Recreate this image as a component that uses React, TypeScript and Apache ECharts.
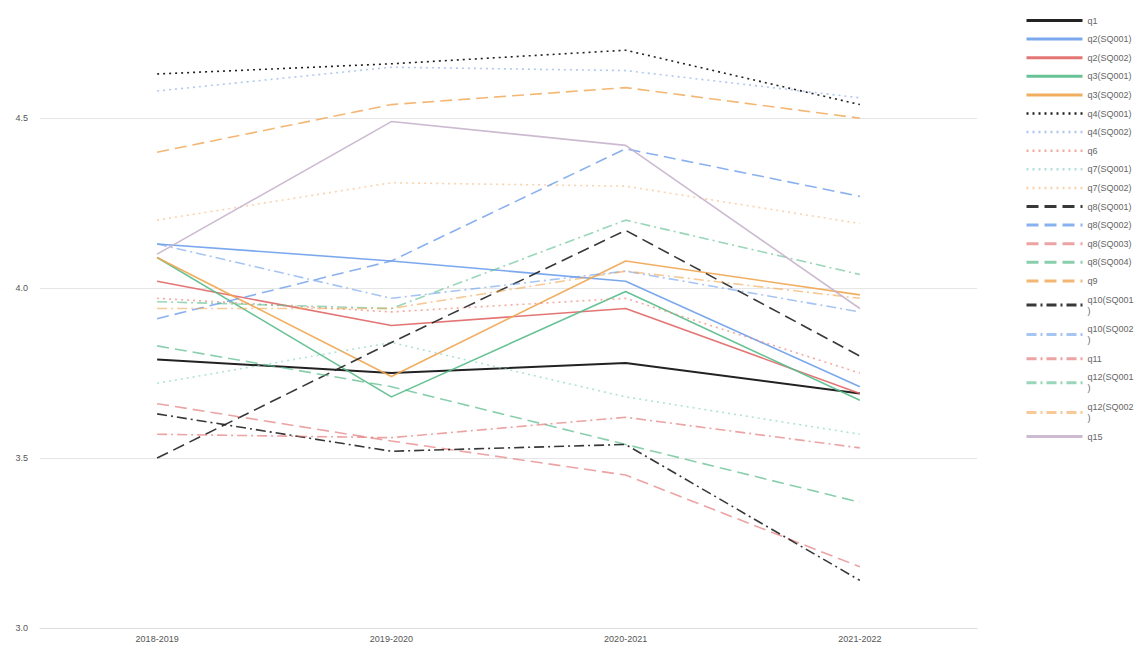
import React, { useEffect, useRef } from 'react';
import * as echarts from 'echarts';

const categories = ['2018-2019', '2019-2020', '2020-2021', '2021-2022'];

const seriesNames = [
  'q1', 'q2(SQ001)', 'q2(SQ002)', 'q3(SQ001)', 'q3(SQ002)',
  'q4(SQ001)', 'q4(SQ002)', 'q6', 'q7(SQ001)', 'q7(SQ002)',
  'q8(SQ001)', 'q8(SQ002)', 'q8(SQ003)', 'q8(SQ004)', 'q9',
  'q10(SQ001)', 'q10(SQ002)', 'q11', 'q12(SQ001)', 'q12(SQ002)',
  'q15',
];

const q1 = [3.79, 3.75, 3.78, 3.69];
const q2sq1 = [4.13, 4.08, 4.02, 3.71];
const q2sq2 = [4.02, 3.89, 3.94, 3.69];
const q3sq1 = [4.09, 3.68, 3.99, 3.67];
const q3sq2 = [4.09, 3.74, 4.08, 3.98];
const q4sq1 = [4.63, 4.66, 4.70, 4.54];
const q4sq2 = [4.58, 4.65, 4.64, 4.56];
const q6 = [3.97, 3.93, 3.97, 3.75];
const q7sq1 = [3.72, 3.84, 3.68, 3.57];
const q7sq2 = [4.20, 4.31, 4.30, 4.19];
const q8sq1 = [3.50, 3.84, 4.17, 3.80];
const q8sq2 = [3.91, 4.08, 4.41, 4.27];
const q8sq3 = [3.66, 3.55, 3.45, 3.18];
const q8sq4 = [3.83, 3.71, 3.54, 3.37];
const q9 = [4.40, 4.54, 4.59, 4.50];
const q10sq1 = [3.63, 3.52, 3.54, 3.14];
const q10sq2 = [4.13, 3.97, 4.05, 3.93];
const q11 = [3.57, 3.56, 3.62, 3.53];
const q12sq1 = [3.96, 3.94, 4.20, 4.04];
const q12sq2 = [3.94, 3.94, 4.05, 3.97];
const q15 = [4.10, 4.49, 4.42, 3.94];

const seriesValues = [
  q1, q2sq1, q2sq2, q3sq1, q3sq2,
  q4sq1, q4sq2, q6, q7sq1, q7sq2,
  q8sq1, q8sq2, q8sq3, q8sq4, q9,
  q10sq1, q10sq2, q11, q12sq1, q12sq2,
  q15,
];

const yTicks = [3.0, 3.5, 4.0, 4.5];

const palette = ['#222222', '#6d9eeb', '#e06666', '#57bb8a', '#f0a550'];
const seriesColors = [
  ...palette,
  '#222222', '#8fb0e8', '#ee8877', '#8fd6c6', '#f7c08a',
  ...palette,
  '#222222', '#6d9eeb', '#e06666', '#57bb8a', '#f0a550',
  '#c6b3cc',
];
const seriesOpacity = [
  1, 0.9, 0.9, 0.9, 0.9,
  1, 0.7, 0.7, 0.7, 0.7,
  0.9, 0.8, 0.6, 0.7, 0.8,
  0.9, 0.6, 0.6, 0.6, 0.6,
  0.9,
];
const SOLID = 'solid';
const DOTTED = [2, 4];
const DASHED = [12, 6];
const DASHDOT = [10, 4, 2, 4];
const seriesDash: any[] = [
  SOLID, SOLID, SOLID, SOLID, SOLID,
  DOTTED, DOTTED, DOTTED, DOTTED, DOTTED,
  DASHED, DASHED, DASHED, DASHED, DASHED,
  DASHDOT, DASHDOT, DASHDOT, DASHDOT, DASHDOT,
  SOLID,
];

export default function App() {
  const ref = useRef<HTMLDivElement>(null);

  useEffect(() => {
    document.body.style.margin = '0';
    if (!ref.current) return;
    const chart = echarts.init(ref.current, undefined, { renderer: 'svg' });
    const font = 'Liberation Sans, Arial, sans-serif';
    chart.setOption({
      animation: false,
      textStyle: { fontFamily: font },
      grid: { left: 40, right: 161, top: 40, bottom: 17, containLabel: false },
      legend: {
        orient: 'vertical',
        left: 1020,
        top: 10,
        itemWidth: 56,
        itemHeight: 12,
        itemGap: 7.6,
        itemStyle: { opacity: 0, borderWidth: 0 },
        textStyle: { fontSize: 9, color: '#666', fontFamily: font, width: 47, overflow: 'breakAll', lineHeight: 11 },
        data: seriesNames.map((n, i) => ({
          name: n,
          lineStyle: { width: seriesDash[i] === DOTTED ? 2.5 : 3 },
        })),
      },
      xAxis: {
        type: 'category',
        data: categories,
        boundaryGap: true,
        axisLine: { show: true, lineStyle: { color: '#dddddd' } },
        axisTick: { show: false },
        axisLabel: { fontSize: 9, color: '#555', margin: 6, fontFamily: font },
      },
      yAxis: {
        type: 'value',
        min: yTicks[0],
        max: 4.73,
        interval: yTicks[1] - yTicks[0],
        axisLine: { show: false },
        axisTick: { show: false },
        axisLabel: {
          fontSize: 9,
          color: '#555',
          margin: 12,
          showMaxLabel: false,
          fontFamily: font,
          formatter: (v: number) => v.toFixed(1),
        },
        splitLine: { show: true, showMaxLine: false, lineStyle: { color: '#e6e6e6' } },
      },
      series: seriesNames.map((name, i) => ({
        name,
        type: 'line',
        data: seriesValues[i],
        symbol: 'none',
        showSymbol: false,
        lineStyle: {
          color: seriesColors[i],
          width: i === 0 ? 2 : 1.6,
          type: seriesDash[i],
          opacity: seriesOpacity[i],
        },
        itemStyle: { color: seriesColors[i] },
      })),
    });
    return () => chart.dispose();
  }, []);

  return <div ref={ref} style={{ width: 1138, height: 645 }} />;
}
